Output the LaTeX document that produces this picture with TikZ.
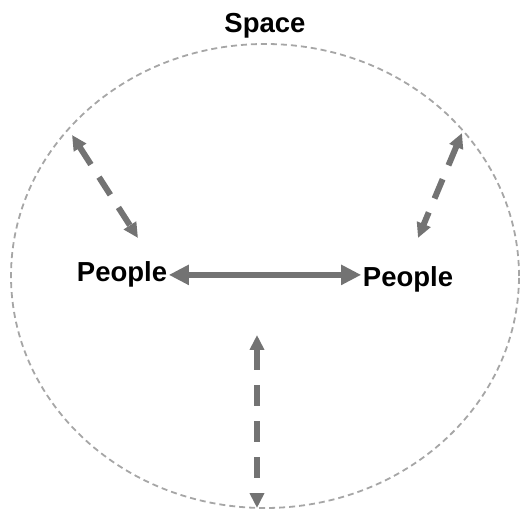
\documentclass[tikz,border=0pt]{standalone}
\usepackage{fontspec}
\setmainfont{Liberation Sans}
\usetikzlibrary{shapes.geometric, arrows.meta}

\begin{document}
\begin{tikzpicture}[x=1pt, y=-1pt,
        label/.style={font=\fontsize{27.5}{32}\selectfont\bfseries, inner sep=1.5pt},
        mainarrow/.style={draw=black!55, line width=6pt, {Triangle[length=20pt,width=19pt]}-{Triangle[length=20pt,width=19pt]}},
        linkarrow/.style={draw=black!55, line width=6pt, dash pattern=on 21pt off 15pt, {Triangle[length=15pt,width=14pt]}-{Triangle[length=15pt,width=14pt]}}]
        \useasboundingbox (0,0) rectangle (522,510);

        % Draw nodes
        \node[ellipse, draw=gray!70, line width=1.8pt, dash pattern=on 6pt off 4pt, inner sep=0pt, minimum width=508pt, minimum height=464pt] (space) at (265,276) {};
        \node[label, anchor=base] (title) at (265,33) {Space};
        \node[label, anchor=base] (pl) at (122,282) {People};
        \node[label, anchor=base] (pr) at (408,287) {People};

        % End points on the border
        \coordinate (lt) at (72,135);
        \coordinate (lb) at (138,238);
        \coordinate (rt) at (462,133);
        \coordinate (rb) at (418,238);
        \coordinate (bt) at (257,335);
        \coordinate (bb) at (257,508);

        % Draw connections
        \draw[mainarrow] (pl.east) -- (pl.east -| pr.west);
        \draw[linkarrow] (lt) -- (lb);
        \draw[linkarrow] (rt) -- (rb);
        \draw[linkarrow] (bt) -- (bb);
    \end{tikzpicture}
\end{document}
